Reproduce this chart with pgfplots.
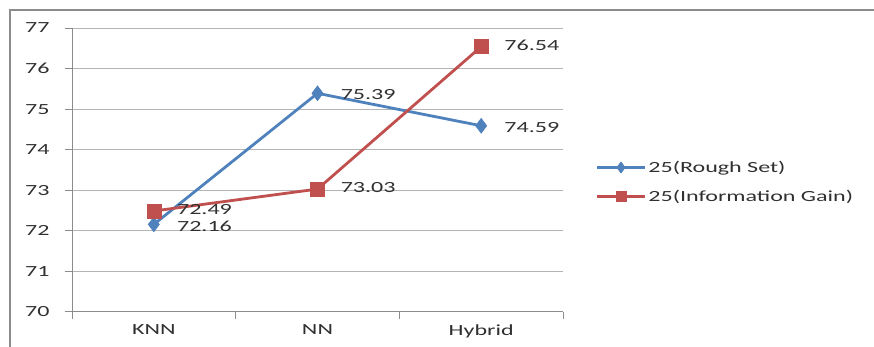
\documentclass[border=0pt]{standalone}
\usepackage{fontspec}
\setmainfont[FakeStretch=1.55]{Carlito}
\usepackage{pgfplots}
\pgfplotsset{compat=1.18}
\definecolor{bl}{HTML}{4F81BD}
\definecolor{rd}{HTML}{C0504D}
\definecolor{gridc}{HTML}{B4B4B4}
\definecolor{axc}{HTML}{8C8C8C}
\definecolor{txt}{HTML}{303030}
\begin{document}
\begin{tikzpicture}[font=\fontsize{15.5pt}{18pt}\selectfont, text=txt]
\path[use as bounding box] (0,0) rectangle (874pt,347pt);
\draw[axc, line width=1.6pt] (10pt,0pt) -- (10pt,337pt) -- (874pt,337pt);
\begin{axis}[
  at={(72pt,35pt)}, anchor=south west,
  scale only axis, width=491pt, height=284pt,
  xmin=0, xmax=3, ymin=70, ymax=77,
  xtick={0,1,2,3}, xticklabels={KNN,NN,Hybrid}, x tick label as interval,
  ytick={70,71,...,77},
  /pgf/number format/assume math mode=true,
  axis x line*=bottom, axis y line*=left,
  axis line style={axc, line width=1pt, -},
  tick align=outside, major tick length=7pt,
  tick style={axc, line width=1pt},
  ymajorgrids, grid style={gridc, line width=1pt},
  yticklabel style={xshift=-12pt},
  xticklabel style={yshift=-2pt},
  every axis plot/.append style={line width=2.8pt},
  legend style={at={(1.066,0.458)}, anchor=west, draw=none, fill=none,
    row sep=12pt, inner sep=0pt, font=\fontsize{15.5pt}{18pt}\selectfont},
  legend cell align=left,
  legend image code/.code={\draw[#1,line width=2.8pt,mark repeat=2,mark phase=2,mark options={scale=0.75,line width=0.5pt}] plot coordinates {(0pt,0pt) (24pt,0pt) (48pt,0pt)};},
  nodes near coords, point meta=explicit symbolic,
  every node near coord/.append style={anchor=west, inner sep=1pt, xshift=22pt, text=txt, font=\fontsize{15.5pt}{18pt}\selectfont},
]
\addplot[color=bl, mark=diamond*, mark size=7.5pt, mark options={solid, line width=0.5pt},
  every node near coord/.append style={yshift=-1.5pt}] coordinates {
  (0.5,72.16) [72.16]
  (1.5,75.39) [75.39]
  (2.5,74.59) [74.59]
};
\addlegendentry{25(Rough Set)}
\addplot[color=rd, mark=square*, mark size=7pt, mark options={solid, line width=0.5pt},
  every node near coord/.append style={yshift=1.5pt}] coordinates {
  (0.5,72.49) [72.49]
  (1.5,73.03) [73.03]
  (2.5,76.54) [76.54]
};
\addlegendentry{25(Information Gain)}
\end{axis}
\end{tikzpicture}
\end{document}
